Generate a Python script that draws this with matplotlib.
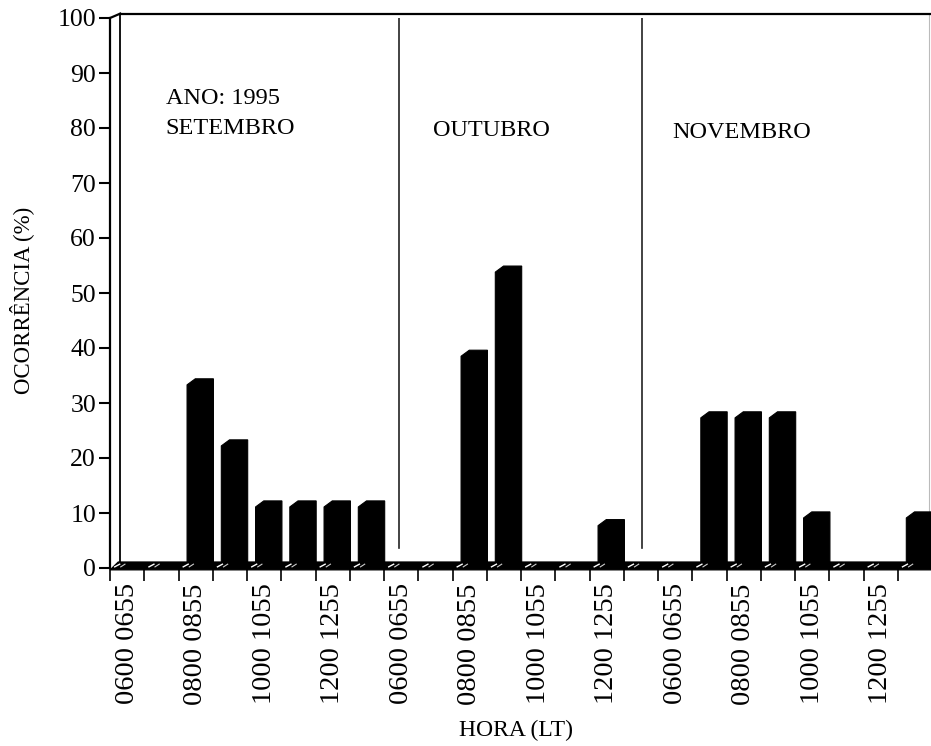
import matplotlib
matplotlib.use("Agg")
import matplotlib.pyplot as plt
from matplotlib.patches import Polygon

# Hourly occurrence (%) for each month of 1995
hour_slots = ["0600", "0700", "0800", "0900", "1000", "1100", "1200", "1300"]
tick_labels = ["0600 0655", "0800 0855", "1000 1055", "1200 1255"]
months = ["SETEMBRO", "OUTUBRO", "NOVEMBRO"]
setembro = [0, 0, 33.3, 22.2, 11.1, 11.1, 11.1, 11.1]
outubro = [0, 0, 38.5, 53.8, 0, 0, 7.7, 0]
novembro = [0, 27.3, 27.3, 27.3, 9.1, 0, 0, 9.1]
year_label = "ANO: 1995"

plt.rcParams["font.family"] = ["Liberation Serif", "DejaVu Serif"]

fig = plt.figure(figsize=(9.31, 7.46), dpi=100)
ax = fig.add_axes([110 / 931, 178 / 746, 822 / 931, 550 / 746])

values = setembro + outubro + novembro
n_slots = len(values)
ax.set_xlim(0, n_slots)
ax.set_ylim(0, 100)

# pseudo-3D depth offsets (data units)
dx, dy = 0.24, 1.1
dxw, dyw = 0.3, 0.8

# floor slab
floor = Polygon([(0, -0.35), (n_slots, -0.35), (n_slots + dx, dy), (dx, dy)],
                closed=True, facecolor="black", edgecolor="black", lw=0.8,
                zorder=2, clip_on=False)
ax.add_patch(floor)

# bars
off, width = 0.25, 0.53
for i, v in enumerate(values):
    if v <= 0:
        continue
    x0 = i + off
    x1 = x0 + width
    poly = Polygon([(x0, 0), (x0, v), (x0 + dx, v + dy), (x1 + dx, v + dy),
                    (x1 + dx, dy), (x1, 0)], closed=True,
                   facecolor="black", edgecolor="black", lw=0.8, zorder=3,
                   clip_on=False)
    ax.add_patch(poly)

# light marks on the floor slab
for s in range(n_slots):
    ax.plot([s + 0.12, s + 0.3], [0.15, 0.75], color="white", lw=1.0,
            zorder=4, solid_capstyle="butt")
    ax.plot([s + 0.3, s + 0.45], [0.15, 0.75], color="#cccccc", lw=0.8,
            zorder=4, solid_capstyle="butt")

# frame: front spine, back wall and top edge
lk = dict(color="black", lw=1.6, clip_on=False, zorder=5)
ax.plot([0, 0], [0, 100], **lk)
ax.plot([0, dxw], [100, 100 + dyw], **lk)
ax.plot([dxw, dxw], [dy, 100 + dyw], color="black", lw=1.3, clip_on=False, zorder=1)
ax.plot([dxw, n_slots + 0.1], [100 + dyw, 100 + dyw], **lk)
ax.plot([n_slots - 0.1, n_slots - 0.1], [8, 100 + dyw], color="#bbbbbb",
        lw=0.8, clip_on=False, zorder=1)

for side in ["top", "right", "left", "bottom"]:
    ax.spines[side].set_visible(False)

# month separators
for xs in [8.44, 15.53]:
    ax.plot([xs, xs], [3.6, 100 + dyw], color="#222222", lw=1.2, zorder=1)

# month labels
ax.text(1.63, 82.6, year_label + "\n" + months[0], fontsize=17.5,
        va="center", ha="left", linespacing=1.55)
ax.text((433 - 110) / 34.25, 79.5, months[1], fontsize=17.5, va="center", ha="left")
ax.text((672 - 110) / 34.25, 79.1, months[2], fontsize=17.5, va="center", ha="left")

# axes ticks
ax.set_yticks(range(0, 101, 10))
ax.tick_params(axis="y", direction="out", length=8, width=1.5, labelsize=18.5,
               pad=2)
ax.set_xticks(range(0, n_slots + 1))
ax.set_xticklabels([])
ax.tick_params(axis="x", which="major", direction="out", length=9, width=1.2)
label_pos = []
label_txt = []
for m in range(len(months)):
    for k, t in enumerate(tick_labels):
        label_pos.append(m * len(hour_slots) + 2 * k + 0.5)
        label_txt.append(t)
ax.set_xticks(label_pos, minor=True)
ax.set_xticklabels(label_txt, minor=True, rotation=90, fontsize=20.5)
ax.tick_params(axis="x", which="minor", length=0, pad=11)

ax.set_ylabel("OCORRÊNCIA (%)", fontsize=16.5)
ax.yaxis.set_label_coords(-0.092, 0.487)
ax.set_xlabel("HORA (LT)", fontsize=17)
ax.xaxis.label.set_verticalalignment("center")
ax.xaxis.set_label_coords(0.494, -0.296)

fig.savefig("out.png", dpi=100)
